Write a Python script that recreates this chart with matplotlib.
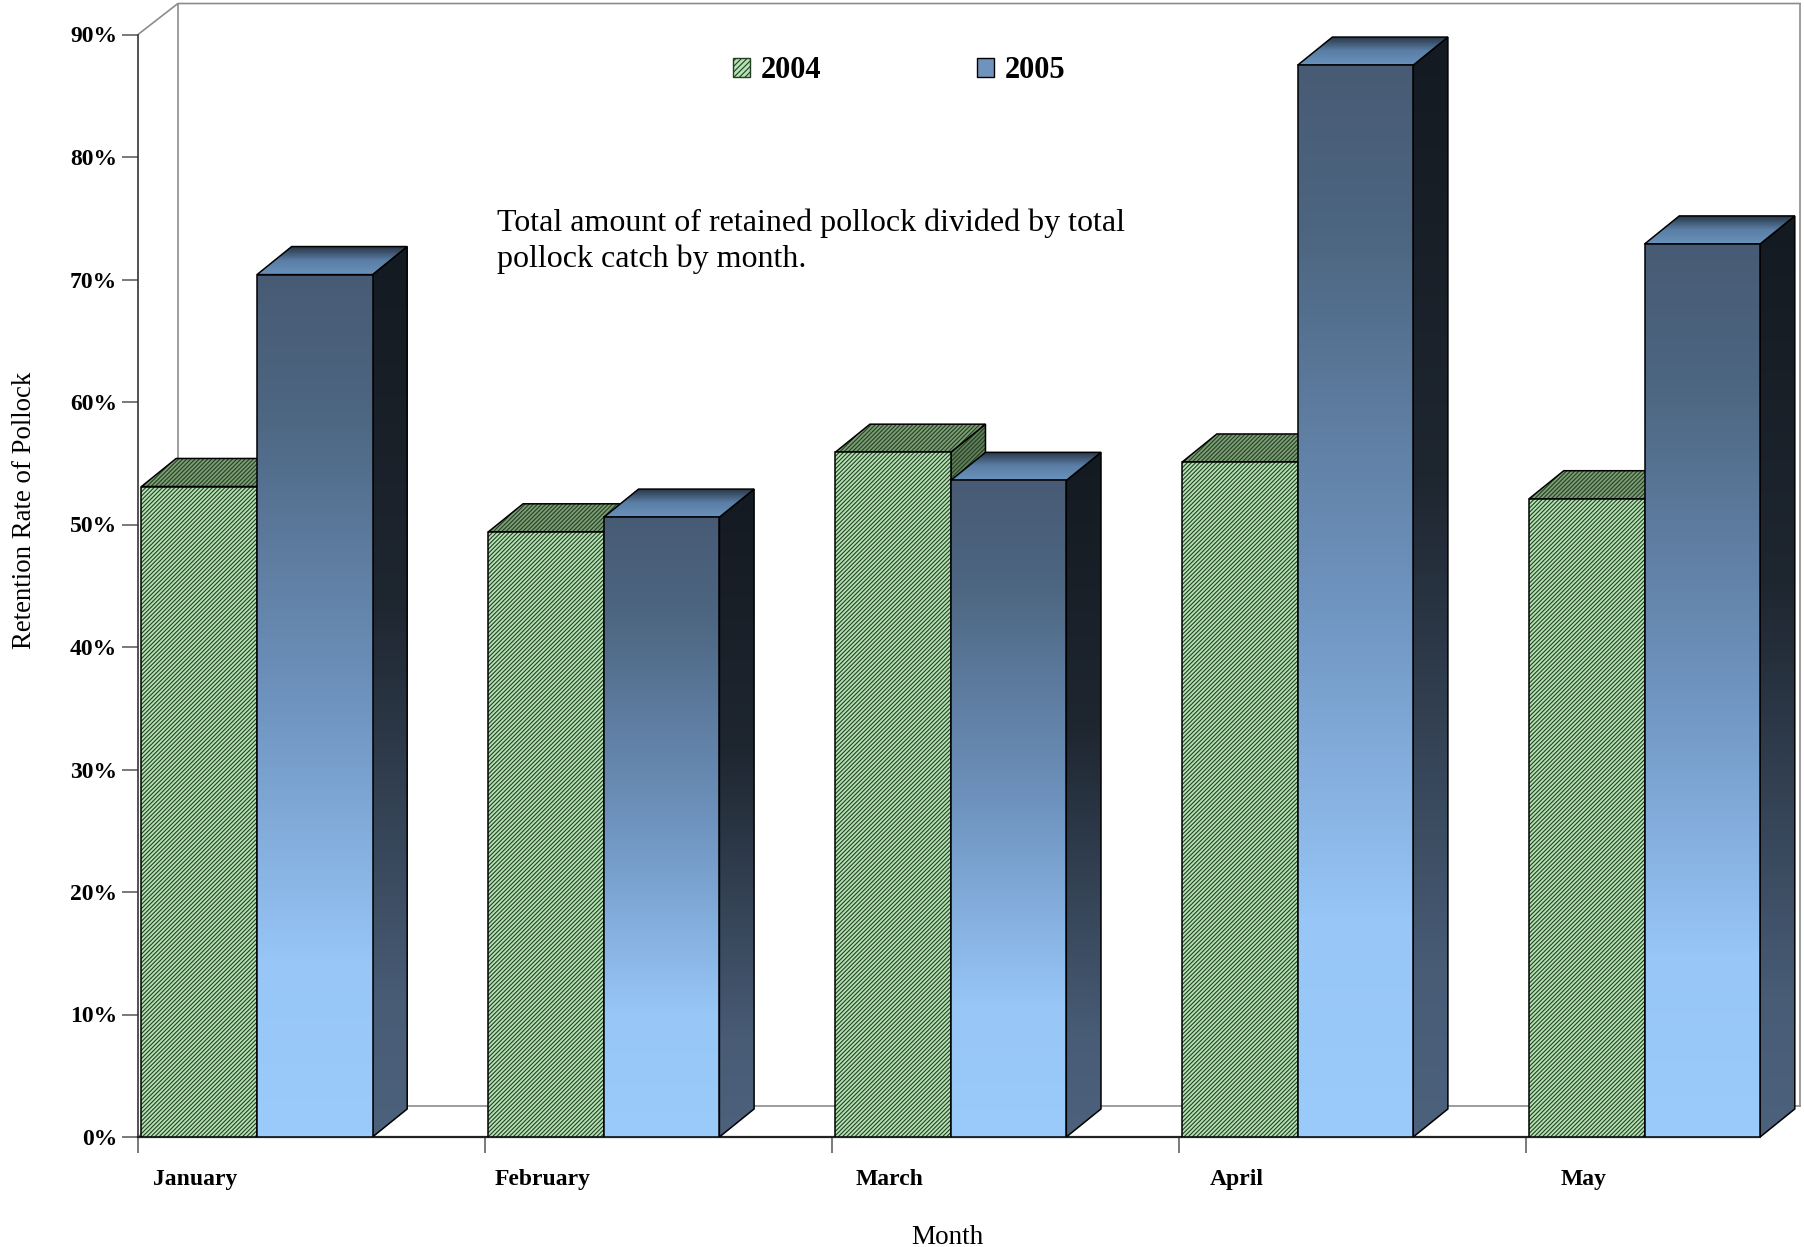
import matplotlib
matplotlib.use("Agg")
import matplotlib.pyplot as plt
from matplotlib.patches import Polygon, Patch
from matplotlib.colors import LinearSegmentedColormap
import numpy as np

months = ["January", "February", "March", "April", "May"]
rate_2004 = [53.1, 49.4, 55.9, 55.1, 52.1]
rate_2005 = [70.4, 50.6, 53.6, 87.5, 72.9]
y_ticks = [0, 10, 20, 30, 40, 50, 60, 70, 80, 90]
y_ticklabels = ["%d%%" % v for v in y_ticks]
note = "Total amount of retained pollock divided by total\npollock catch by month."

plt.rcParams['font.family'] = 'serif'
plt.rcParams['font.serif'] = ['Liberation Serif', 'DejaVu Serif']
plt.rcParams['hatch.linewidth'] = 0.8

# fake 3d: depth of walls and bars in data units
WALL_DX, WALL_DY = 0.115, 2.53
BAR_DX, BAR_DY = 0.10, 2.29
BAR_W = 0.333
BAR_OFF = 0.01
HATCH = '/' * 8

front_cmap = LinearSegmentedColormap.from_list(
    'front', [(0, '#485b75'), (0.15, '#4c6580'), (0.5, '#6f94c0'),
              (0.8, '#97c6f7'), (1, '#9acbfa')])
side_cmap = LinearSegmentedColormap.from_list(
    'side', [(0, '#141a21'), (0.4, '#1e2630'), (0.85, '#485c76'), (1, '#4c617c')])
top_cmap = LinearSegmentedColormap.from_list(
    'top', [(0, '#263240'), (0.5, '#5a7ea5'), (1, '#6a92bb')])

GREEN = '#b4e4b4'
GREEN_TOP = '#7c9e74'
HATCH_COL = '#243e24'

fig = plt.figure(figsize=(18.04, 12.47), dpi=100)
ax = fig.add_axes([138 / 1804, 110 / 1247, 1 - 138 / 1804, 1 - 110 / 1247])
grad = np.linspace(0, 1, 256).reshape(-1, 1)

z = [3]


def nz():
    z[0] += 1
    return z[0]


def gradient_face(pts, cmap):
    pts = np.array(pts)
    edge = Polygon(pts, closed=True, facecolor='none', edgecolor='black', lw=1.1)
    ax.add_patch(edge)
    im = ax.imshow(grad, cmap=cmap, aspect='auto', origin='upper',
                   extent=(pts[:, 0].min(), pts[:, 0].max(), pts[:, 1].min(), pts[:, 1].max()),
                   zorder=nz(), interpolation='bilinear')
    im.set_clip_path(edge)
    edge.set_zorder(nz())


def hatched_face(pts, color):
    ax.add_patch(Polygon(pts, closed=True, facecolor=color, edgecolor=HATCH_COL,
                         hatch=HATCH, lw=0, zorder=nz()))
    ax.add_patch(Polygon(pts, closed=True, facecolor='none', edgecolor='black',
                         lw=1.1, zorder=nz()))


def box(x0, h, kind):
    x1 = x0 + BAR_W
    front = [(x0, 0), (x1, 0), (x1, h), (x0, h)]
    side = [(x1, 0), (x1 + BAR_DX, BAR_DY), (x1 + BAR_DX, h + BAR_DY), (x1, h)]
    top = [(x0, h), (x1, h), (x1 + BAR_DX, h + BAR_DY), (x0 + BAR_DX, h + BAR_DY)]
    if kind == 'green':
        hatched_face(side, '#5f7f58')
        hatched_face(top, GREEN_TOP)
        hatched_face(front, GREEN)
    else:
        gradient_face(side, side_cmap)
        gradient_face(top, top_cmap)
        gradient_face(front, front_cmap)


# back walls
x_end = len(months) - 1 + BAR_OFF + 2 * BAR_W
wall_col = '#8c8c8c'
ax.plot([0, WALL_DX, x_end + WALL_DX], [90, 90 + WALL_DY, 90 + WALL_DY], color=wall_col, lw=1.2, zorder=1)
ax.plot([WALL_DX, WALL_DX], [WALL_DY, 90 + WALL_DY], color=wall_col, lw=1.2, zorder=1)
ax.plot([0, WALL_DX, x_end + WALL_DX], [0, WALL_DY, WALL_DY], color=wall_col, lw=1.2, zorder=1)
ax.plot([x_end + WALL_DX, x_end + WALL_DX], [WALL_DY, 90 + WALL_DY], color=wall_col, lw=1.2, zorder=1)

for i in range(len(months)):
    box(i + BAR_OFF, rate_2004[i], 'green')
    box(i + BAR_OFF + BAR_W, rate_2005[i], 'blue')

ax.set_xlim(0, (1804 - 138) / 346.9)
ax.set_ylim(0, 1137 / 12.25)

for s in ['top', 'right']:
    ax.spines[s].set_visible(False)
ax.spines['left'].set_bounds(0, 90)
ax.spines['bottom'].set_bounds(0, x_end)
ax.spines['left'].set_color('#333333')
ax.spines['bottom'].set_color('#222222')
ax.spines['left'].set_linewidth(1.2)
ax.spines['bottom'].set_linewidth(1.6)

ax.set_yticks(y_ticks)
ax.set_yticklabels(y_ticklabels, fontsize=17, fontweight='bold')
ax.tick_params(axis='y', length=11.5, width=1.1, color='#555555', pad=3.6)

ax.set_xticks(range(len(months)))
ax.set_xticklabels([])
ax.set_xticks([i + 0.166 for i in range(len(months))], minor=True)
ax.set_xticklabels(months, minor=True, fontsize=17, fontweight='bold')
ax.tick_params(axis='x', which='major', length=11.5, width=1.1, color='#555555')
ax.tick_params(axis='x', which='minor', length=0, pad=23.3)

ax.set_ylabel("Retention Rate of Pollock", fontsize=19.3)
ax.yaxis.set_label_coords(-0.0684, 0.551)
ax.yaxis.label.set_va('center')
ax.set_xlabel("Month", fontsize=19.5)
ax.xaxis.set_label_coords(0.4856, -0.0883)
ax.xaxis.label.set_va('center')

ax.text(1.035, 75.8, note, fontsize=23, va='top', ha='left', linespacing=1.3, zorder=50)

handles = [Patch(facecolor=GREEN, edgecolor=HATCH_COL, hatch='//////', label='2004'),
           Patch(facecolor='#6f93bd', edgecolor='black', label='2005')]
fig.legend(handles=handles, loc='center left', bbox_to_anchor=(733 / 1804, 1 - 70.5 / 1247),
           ncol=2, frameon=False, prop={'size': 22, 'weight': 'bold'},
           handlelength=0.56, handleheight=0.56, handletextpad=0.35, columnspacing=5.1,
           borderpad=0, borderaxespad=0)

fig.savefig("out.png", dpi=100)
